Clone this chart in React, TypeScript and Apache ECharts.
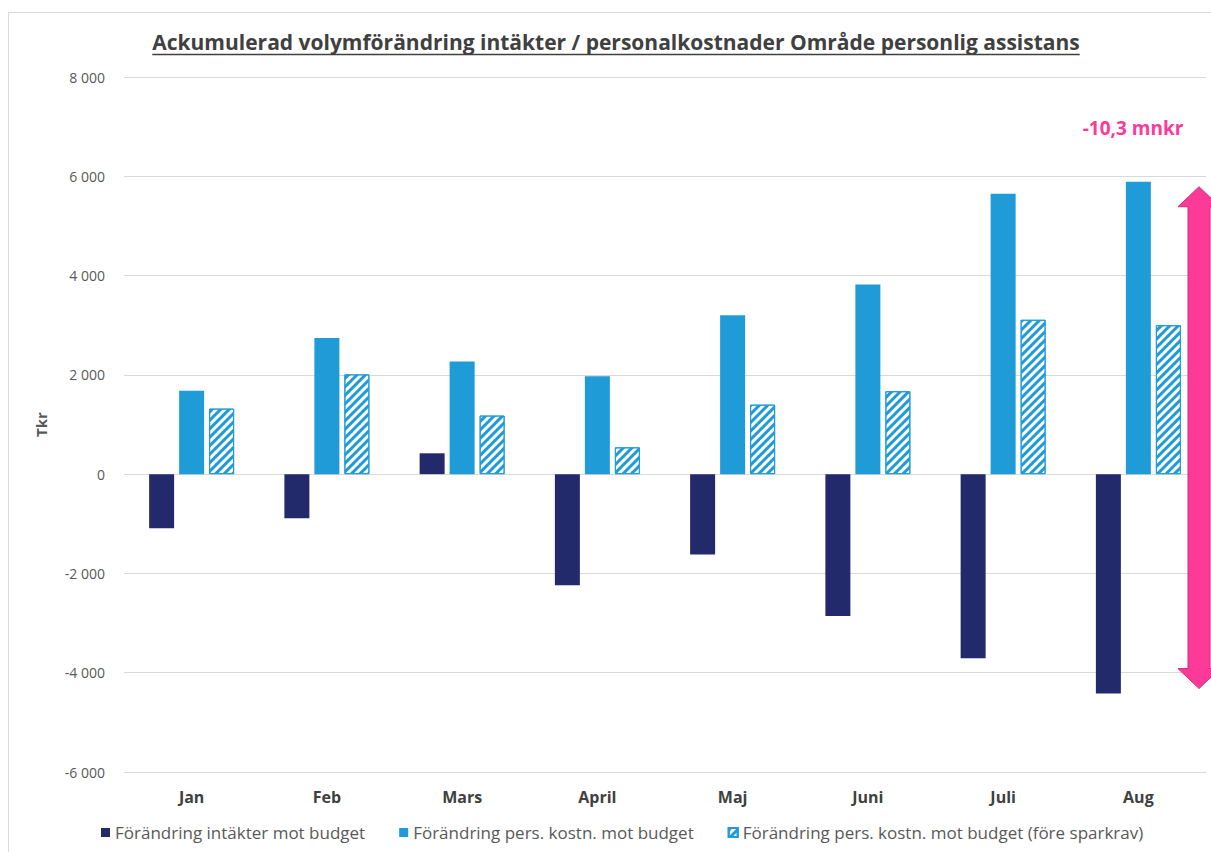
import React, { useEffect, useRef } from "react";
import * as echarts from "echarts";

const categories = ["Jan", "Feb", "Mars", "April", "Maj", "Juni", "Juli", "Aug"];
const intakter = [-1090, -890, 420, -2240, -1620, -2860, -3710, -4420];
const persKostn = [1680, 2740, 2270, 1970, 3200, 3820, 5650, 5890];
const persKostnForeSparkrav = [1320, 2010, 1180, 540, 1400, 1670, 3110, 3000];
const seriesNames = [
  "Förändring intäkter mot budget",
  "Förändring pers. kostn. mot budget",
  "Förändring pers. kostn. mot budget (före sparkrav)",
];
const titleText = "Ackumulerad volymförändring intäkter / personalkostnader Område personlig assistans";
const annotationText = "-10,3 mnkr";
const yTicks = { min: -6000, max: 8000, interval: 2000 };

const NAVY = "#232a6c";
const BLUE = "#1f9bd7";
const PINK = "#fd3a98";
const FONT = "'Open Sans', Lato, sans-serif";

export default function App() {
  const ref = useRef<HTMLDivElement>(null);
  useEffect(() => {
    document.body.style.margin = "0";
    const chart = echarts.init(ref.current!, null, { renderer: "svg" });
    const c = document.createElement("canvas").getContext("2d")!;
    c.font = `bold 20px ${FONT}`;
    const w20 = c.measureText(titleText).width;
    const titleSize = Math.min(22, (20 * 928) / w20);
    const titleFont = `bold ${titleSize}px ${FONT}`;
    c.font = titleFont;
    const tw = c.measureText(titleText).width;
    const tcx = 616;

    const fmt = (v: number) => {
      const s = Math.abs(v).toString().replace(/\B(?=(\d{3})+(?!\d))/g, " ");
      return (v < 0 ? "-" : "") + s;
    };

    chart.setOption({
      animation: false,
      backgroundColor: "#fff",
      textStyle: { fontFamily: FONT },
      grid: { left: 124, right: 5, top: 77, bottom: 80, containLabel: false },
      legend: {
        left: 96,
        top: 819,
        itemWidth: 9,
        itemHeight: 9,
        itemGap: 34,
        icon: "rect",
        textStyle: { color: "#595959", fontSize: 17, fontFamily: FONT },
        data: seriesNames,
      },
      xAxis: {
        type: "category",
        data: categories,
        axisLine: { show: false },
        axisTick: { show: false },
        axisLabel: { color: "#404040", fontSize: 16, fontWeight: "bold", margin: 17, fontFamily: FONT },
      },
      yAxis: {
        type: "value",
        min: yTicks.min,
        max: yTicks.max,
        interval: yTicks.interval,
        name: "Tkr",
        nameLocation: "middle",
        nameGap: 76,
        nameRotate: 90,
        nameTextStyle: { color: "#595959", fontSize: 15, fontWeight: "bold", fontFamily: FONT },
        axisLine: { show: false },
        axisTick: { show: false },
        axisLabel: { color: "#595959", fontSize: 14, margin: 19, formatter: fmt, fontFamily: FONT },
        splitLine: { lineStyle: { color: "#d9d9d9", width: 1 } },
      },
      series: [
        {
          name: seriesNames[0],
          type: "bar",
          data: intakter,
          barWidth: 25,
          barGap: "20%",
          itemStyle: { color: NAVY },
        },
        {
          name: seriesNames[1],
          type: "bar",
          data: persKostn,
          barWidth: 25,
          barGap: "20%",
          itemStyle: { color: BLUE },
        },
        {
          name: seriesNames[2],
          type: "bar",
          data: persKostnForeSparkrav,
          barWidth: 25,
          barGap: "20%",
          itemStyle: {
            color: "#fff",
            borderColor: BLUE,
            borderWidth: 1,
            decal: {
              symbol: "rect",
              symbolSize: 1,
              color: BLUE,
              dashArrayX: [1, 0],
              dashArrayY: [2.5, 2.5],
              rotation: -Math.PI / 4,
            },
          },
        },
      ],
    });

    const topY = chart.convertToPixel({ yAxisIndex: 0 }, Math.max(...persKostn)) + 5;
    const botY = chart.convertToPixel({ yAxisIndex: 0 }, Math.min(...intakter)) - 5;
    const ax = 1199;
    const sh = 11;
    const hh = 21;
    const hl = 20;

    chart.setOption({
      graphic: [
        {
          type: "rect",
          shape: { x: 8.5, y: 12.5, width: 1300, height: 1000 },
          style: { fill: "none", stroke: "#d9d9d9", lineWidth: 1 },
          silent: true,
        },
        {
          type: "text",
          x: tcx,
          y: 42,
          style: {
            text: titleText,
            font: titleFont,
            fill: "#404040",
            align: "center",
            verticalAlign: "middle",
          },
        },
        {
          type: "line",
          shape: { x1: tcx - tw / 2, y1: 54.5, x2: tcx + tw / 2, y2: 54.5 },
          style: { stroke: "#404040", lineWidth: 1.5 },
        },
        {
          type: "text",
          x: 1133,
          y: 128,
          style: {
            text: annotationText,
            font: `bold 19px ${FONT}`,
            fill: PINK,
            align: "center",
            verticalAlign: "middle",
          },
        },
        {
          type: "polygon",
          shape: {
            points: [
              [ax, topY],
              [ax + hh, topY + hl],
              [ax + sh, topY + hl],
              [ax + sh, botY - hl],
              [ax + hh, botY - hl],
              [ax, botY],
              [ax - hh, botY - hl],
              [ax - sh, botY - hl],
              [ax - sh, topY + hl],
              [ax - hh, topY + hl],
            ],
          },
          style: { fill: PINK, stroke: "#d42a7c", lineWidth: 1 },
        },
      ],
    });

    return () => chart.dispose();
  }, []);
  return <div ref={ref} style={{ position: "absolute", left: 0, top: 0, width: 1211, height: 852 }} />;
}
